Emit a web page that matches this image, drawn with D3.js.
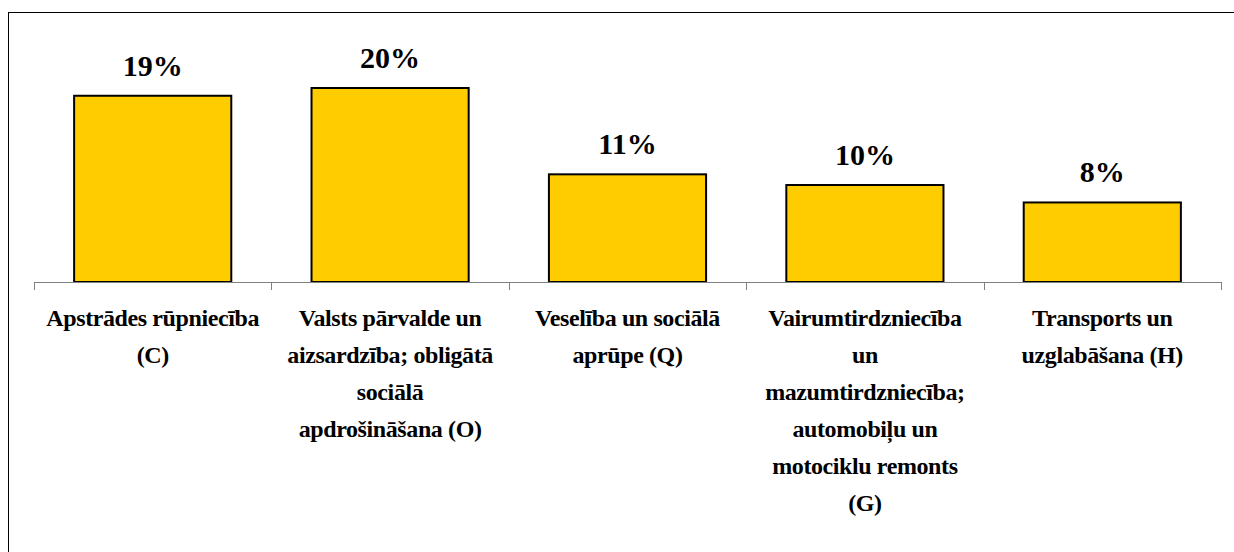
<!DOCTYPE html>
<html>
<head>
<meta charset="utf-8">
<script src="https://cdn.jsdelivr.net/npm/d3@7"></script>
<style>
  html, body { margin: 0; padding: 0; background: #fff; }
  svg { display: block; }
</style>
</head>
<body>
<div id="chart"></div>
<script>
// data
const categories = ['C', 'O', 'Q', 'G', 'H'];
const categoryLines = [
    ['Apstrādes rūpniecība', '(C)'],
    ['Valsts pārvalde un', 'aizsardzība; obligātā', 'sociālā', 'apdrošināšana (O)'],
    ['Veselība un sociālā', 'aprūpe (Q)'],
    ['Vairumtirdzniecība', 'un', 'mazumtirdzniecība;', 'automobiļu un', 'motociklu remonts', '(G)'],
    ['Transports un', 'uzglabāšana (H)']
];
const shares = [19.2, 20.0, 11.1, 10.0, 8.2];

const FONT = "'Liberation Serif', 'Times New Roman', Tinos, 'DejaVu Serif', 'Noto Serif', serif";

// dimensions
const W = 1234, H = 552;
const plot = { left: 34, right: 1221, base: 282, top: 88 };

const svg = d3.select('#chart')
    .append('svg')
    .attr('width', W)
    .attr('height', H);

// outer frame (continues past the right and bottom edge)
svg.append('rect')
    .attr('x', 8.5)
    .attr('y', 12.5)
    .attr('width', W + 20)
    .attr('height', H + 20)
    .attr('fill', 'none')
    .attr('stroke', '#000')
    .attr('stroke-width', 1);

// scales
const x = d3.scaleBand()
    .domain(categories)
    .range([plot.left, plot.right])
    .padding(0);

const y = d3.scaleLinear()
    .domain([0, 20])
    .range([plot.base, plot.top]);

const barW = x.bandwidth() * 0.662;

// bars
svg.selectAll('rect.bar')
    .data(shares)
    .join('rect')
    .attr('class', 'bar')
    .attr('x', (d, i) => x(categories[i]) + (x.bandwidth() - barW) / 2)
    .attr('y', d => y(d))
    .attr('width', barW)
    .attr('height', d => y(0) - y(d))
    .attr('fill', '#FFCC00')
    .attr('stroke', '#000')
    .attr('stroke-width', 2);

// category axis: line plus ticks at band boundaries
const axis = svg.append('g').attr('class', 'x-axis');
axis.append('line')
    .attr('x1', plot.left)
    .attr('x2', plot.right)
    .attr('y1', y(0) + 0.5)
    .attr('y2', y(0) + 0.5)
    .attr('stroke', '#808080')
    .attr('stroke-width', 1);

const edges = categories.map(c => x(c)).concat([x.range()[1]]);
axis.selectAll('line.tick')
    .data(edges)
    .join('line')
    .attr('class', 'tick')
    .attr('x1', d => Math.round(d) + 0.5)
    .attr('x2', d => Math.round(d) + 0.5)
    .attr('y1', y(0))
    .attr('y2', y(0) + 8)
    .attr('stroke', '#808080')
    .attr('stroke-width', 1);

// category labels
categoryLines.forEach((lines, i) => {
    const t = svg.append('text')
        .attr('text-anchor', 'middle')
        .attr('font-family', FONT)
        .attr('font-weight', 'bold')
        .attr('font-size', 24)
        .attr('letter-spacing', -0.4);
    lines.forEach((ln, j) => {
        t.append('tspan')
            .attr('x', x(categories[i]) + x.bandwidth() / 2)
            .attr('y', y(0) + 44 + j * 37)
            .text(ln);
    });
});

// value labels
const fmt = d3.format('.0%');
svg.selectAll('text.value')
    .data(shares)
    .join('text')
    .attr('class', 'value')
    .attr('x', (d, i) => x(categories[i]) + x.bandwidth() / 2)
    .attr('y', d => y(d) - 20)
    .attr('text-anchor', 'middle')
    .attr('font-family', FONT)
    .attr('font-weight', 'bold')
    .attr('font-size', 30)
    .text(d => fmt(d / 100));
</script>
</body>
</html>
